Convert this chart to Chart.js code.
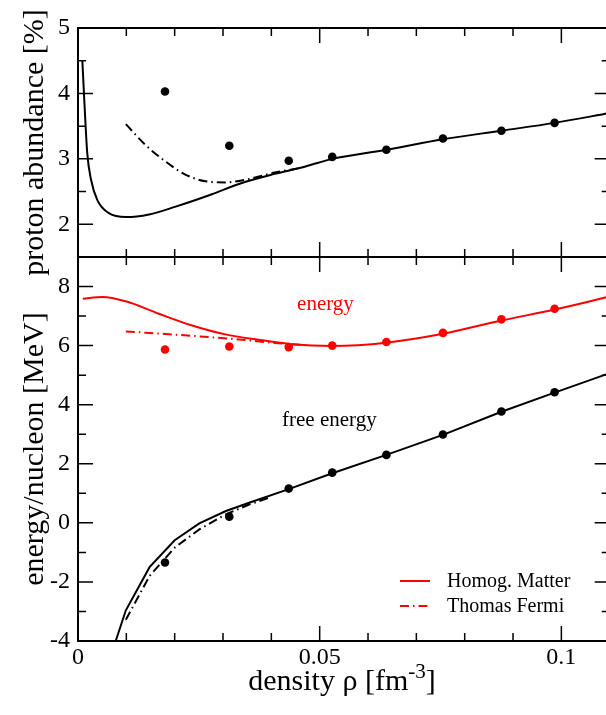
<!DOCTYPE html>
<html>
<head>
<meta charset="utf-8">
<script src="https://cdn.jsdelivr.net/npm/chart.js@4.4.1/dist/chart.umd.min.js"></script>
<style>
  html, body { margin: 0; padding: 0; background: #fff; overflow: hidden; }
  #wrap { width: 606px; height: 715px; overflow: hidden; }
</style>
</head>
<body>
<div id="wrap"><canvas id="chart" width="614" height="715"></canvas></div>
<script>
// density points where the dots sit (both panels)
const dotX = [0.018, 0.0313, 0.0436, 0.0526, 0.0638, 0.0755, 0.0876, 0.0986];

// top panel: proton abundance [%]
const abundDots = [4.03, 3.20, 2.97, 3.03, 3.14, 3.31, 3.43, 3.55];
const abundHomX = [0.0009, 0.0013, 0.0019, 0.0027, 0.004, 0.0064, 0.0099, 0.0147, 0.0202, 0.027, 0.0339, 0.0407, 0.0469, 0.0526, 0.0638, 0.0755, 0.0876, 0.0986, 0.11];
const abundHomY = [4.50, 3.90, 3.10, 2.68, 2.37, 2.17, 2.11, 2.15, 2.27, 2.44, 2.63, 2.77, 2.88, 3.00, 3.14, 3.30, 3.43, 3.55, 3.70];
const abundTfX = [0.0099, 0.014, 0.0181, 0.0222, 0.027, 0.0305, 0.0352, 0.0407, 0.046];
const abundTfY = [3.53, 3.21, 2.96, 2.76, 2.65, 2.64, 2.69, 2.79, 2.86];

// bottom panel: energy/nucleon [MeV]
const energyDots = [5.87, 5.97, 5.95, 6.00, 6.12, 6.43, 6.89, 7.25];
const energyHomX = [0.001, 0.0051, 0.0099, 0.0167, 0.0236, 0.0305, 0.0373, 0.0442, 0.0526, 0.0638, 0.0755, 0.0876, 0.0986, 0.11];
const energyHomY = [7.59, 7.65, 7.50, 7.08, 6.68, 6.38, 6.20, 6.05, 5.99, 6.10, 6.40, 6.85, 7.22, 7.66];
const energyTfX = [0.0099, 0.0202, 0.027, 0.0339, 0.0407, 0.046];
const energyTfY = [6.48, 6.37, 6.29, 6.20, 6.09, 6.03];

const freeDots = [-1.34, 0.21, 1.16, 1.70, 2.30, 2.99, 3.77, 4.42];
const freeHomX = [0.0078, 0.0099, 0.0148, 0.020, 0.0251, 0.0306, 0.0354, 0.0436, 0.0526, 0.0638, 0.0755, 0.0876, 0.0986, 0.11];
const freeHomY = [-4.0, -2.96, -1.50, -0.59, -0.02, 0.40, 0.68, 1.14, 1.68, 2.30, 2.98, 3.76, 4.41, 5.07];
const freeTfX = [0.0099, 0.0148, 0.020, 0.0251, 0.0306, 0.0354, 0.040];
const freeTfY = [-3.28, -1.80, -0.84, -0.22, 0.29, 0.62, 0.88];

// text inside the plot, placed in data coordinates of the bottom panel
const notes = [
  { text: 'energy', x: 0.0512, y: 7.22, color: '#ff0000' },
  { text: 'free energy', x: 0.052, y: 3.29, color: '#000000' }
];
const legendNames = ['Homog. Matter', 'Thomas Fermi'];

const SERIF = "'Liberation Serif', 'DejaVu Serif', serif";
const RED = '#ff0000';
const DASHDOT = [9, 4, 1.5, 4];

const pts = (xs, ys) => xs.map((x, i) => ({ x: x, y: ys[i] }));

function curve(data, yAxisID, color, dash, smooth = true) {
  return {
    data: data, yAxisID: yAxisID, showLine: true,
    borderColor: color, borderWidth: 2, borderDash: dash || [],
    pointRadius: 0,
    cubicInterpolationMode: smooth ? 'monotone' : 'default', tension: 0
  };
}
function dots(data, yAxisID, color) {
  return {
    data: data, yAxisID: yAxisID, showLine: false,
    backgroundColor: color, borderColor: color, pointRadius: 4.3, borderWidth: 0
  };
}

const isMajor = {
  x: v => Math.abs(v / 0.05 - Math.round(v / 0.05)) < 1e-6,
  yTop: v => Math.abs(v - Math.round(v)) < 1e-6,
  yBot: v => Math.abs(v / 2 - Math.round(v / 2)) < 1e-6
};

// xmgrace-like frame: boxes with inward ticks on every side
const framePlugin = {
  id: 'frame',
  afterDatasetsDraw(chart) {
    const ctx = chart.ctx, x = chart.scales.x;
    ctx.save();
    ctx.strokeStyle = '#000';
    ['yTop', 'yBot'].forEach(id => {
      const y = chart.scales[id];
      ctx.lineWidth = 1.5;
      ctx.beginPath();
      x.ticks.forEach(t => {
        const px = x.getPixelForValue(t.value);
        const len = isMajor.x(t.value) ? 15 : 8;
        ctx.moveTo(px, y.top); ctx.lineTo(px, y.top + len);
        ctx.moveTo(px, y.bottom); ctx.lineTo(px, y.bottom - len);
      });
      y.ticks.forEach(t => {
        const py = y.getPixelForValue(t.value);
        const len = isMajor[id](t.value) ? 15 : 8;
        ctx.moveTo(x.left, py); ctx.lineTo(x.left + len, py);
        ctx.moveTo(x.right, py); ctx.lineTo(x.right - len, py);
      });
      ctx.stroke();
      ctx.lineWidth = 2;
      ctx.strokeRect(x.left, y.top, x.right - x.left, y.bottom - y.top);
    });
    ctx.restore();
  },
  afterDraw(chart) {
    const ctx = chart.ctx, x = chart.scales.x, y = chart.scales.yBot;
    ctx.save();
    // labels inside the energy panel
    ctx.font = '21px ' + SERIF;
    ctx.textAlign = 'center';
    ctx.textBaseline = 'alphabetic';
    notes.forEach(n => {
      ctx.fillStyle = n.color;
      ctx.fillText(n.text, x.getPixelForValue(n.x), y.getPixelForValue(n.y));
    });

    // legend (red curves)
    const legendSets = [chart.data.datasets[3], chart.data.datasets[4]];
    const lx = x.left + 322, rowY = [y.bottom - 60, y.bottom - 35];
    ctx.font = '20px ' + SERIF;
    ctx.textAlign = 'left';
    ctx.textBaseline = 'middle';
    legendSets.forEach((ds, i) => {
      ctx.strokeStyle = ds.borderColor;
      ctx.lineWidth = ds.borderWidth;
      ctx.setLineDash(ds.borderDash);
      ctx.beginPath();
      ctx.moveTo(lx, rowY[i]);
      ctx.lineTo(lx + 30, rowY[i]);
      ctx.stroke();
      ctx.setLineDash([]);
      ctx.fillStyle = '#000';
      ctx.fillText(legendNames[i], lx + 47, rowY[i] + 1);
    });

    // x axis title with superscript
    const main = 'density ρ [fm', sup = '-3', tail = ']';
    ctx.textBaseline = 'alphabetic';
    ctx.font = '30px ' + SERIF;
    const wMain = ctx.measureText(main).width, wTail = ctx.measureText(tail).width;
    ctx.font = '21px ' + SERIF;
    const wSup = ctx.measureText(sup).width;
    const cx = (x.left + 606) / 2;
    let tx = cx - (wMain + wSup + wTail) / 2;
    const base = y.bottom + 49;
    ctx.fillStyle = '#000';
    ctx.font = '30px ' + SERIF;
    ctx.fillText(main, tx, base);
    tx += wMain;
    ctx.font = '21px ' + SERIF;
    ctx.fillText(sup, tx, base - 12);
    tx += wSup;
    ctx.font = '30px ' + SERIF;
    ctx.fillText(tail, tx, base);
    ctx.restore();
  }
};

const tickFont = { family: SERIF, size: 24 };
const titleFont = { family: SERIF, size: 30 };

new Chart(document.getElementById('chart'), {
  type: 'scatter',
  data: {
    datasets: [
      curve(pts(abundHomX, abundHomY), 'yTop', '#000'),
      curve(pts(abundTfX, abundTfY), 'yTop', '#000', DASHDOT),
      dots(pts(dotX, abundDots), 'yTop', '#000'),
      curve(pts(energyHomX, energyHomY), 'yBot', RED),
      curve(pts(energyTfX, energyTfY), 'yBot', RED, DASHDOT),
      dots(pts(dotX, energyDots), 'yBot', RED),
      curve(pts(freeHomX, freeHomY), 'yBot', '#000', null, false),
      curve(pts(freeTfX, freeTfY), 'yBot', '#000', DASHDOT, false),
      dots(pts(dotX, freeDots), 'yBot', '#000')
    ]
  },
  options: {
    responsive: false,
    animation: false,
    layout: { padding: { top: 28, right: 1, left: 0, bottom: 0 } },
    plugins: { legend: { display: false }, tooltip: { enabled: false } },
    scales: {
      x: {
        type: 'linear', min: 0, max: 0.11,
        grid: { display: false, drawTicks: false }, border: { display: false },
        ticks: {
          stepSize: 0.01, autoSkip: false, maxRotation: 0, padding: 2,
          font: tickFont, color: '#000',
          callback: v => isMajor.x(v) ? String(Math.round(v * 100) / 100) : ''
        },
        afterFit: s => { s.height = 74; }
      },
      // stacked left axes: the one listed last is placed on top
      yBot: {
        type: 'linear', position: 'left', stack: 'panels', stackWeight: 384,
        min: -4, max: 9,
        grid: { display: false, drawTicks: false }, border: { display: false },
        ticks: {
          stepSize: 1, autoSkip: false, padding: 8, font: tickFont, color: '#000',
          callback: v => isMajor.yBot(v) ? String(v) : ''
        },
        title: { display: true, text: 'energy/nucleon [MeV]', font: titleFont, color: '#000', padding: { top: 17, bottom: 0 } },
        afterFit: s => { s.width = 78; }
      },
      yTop: {
        type: 'linear', position: 'left', stack: 'panels', stackWeight: 229,
        min: 1.5, max: 5,
        grid: { display: false, drawTicks: false }, border: { display: false },
        ticks: {
          stepSize: 0.5, autoSkip: false, padding: 8, font: tickFont, color: '#000',
          callback: v => isMajor.yTop(v) ? String(v) : ''
        },
        title: { display: true, text: 'proton abundance [%]', font: titleFont, color: '#000', padding: { top: 17, bottom: 0 } },
        afterFit: s => { s.width = 78; }
      }
    }
  },
  plugins: [framePlugin]
});
</script>
</body>
</html>
